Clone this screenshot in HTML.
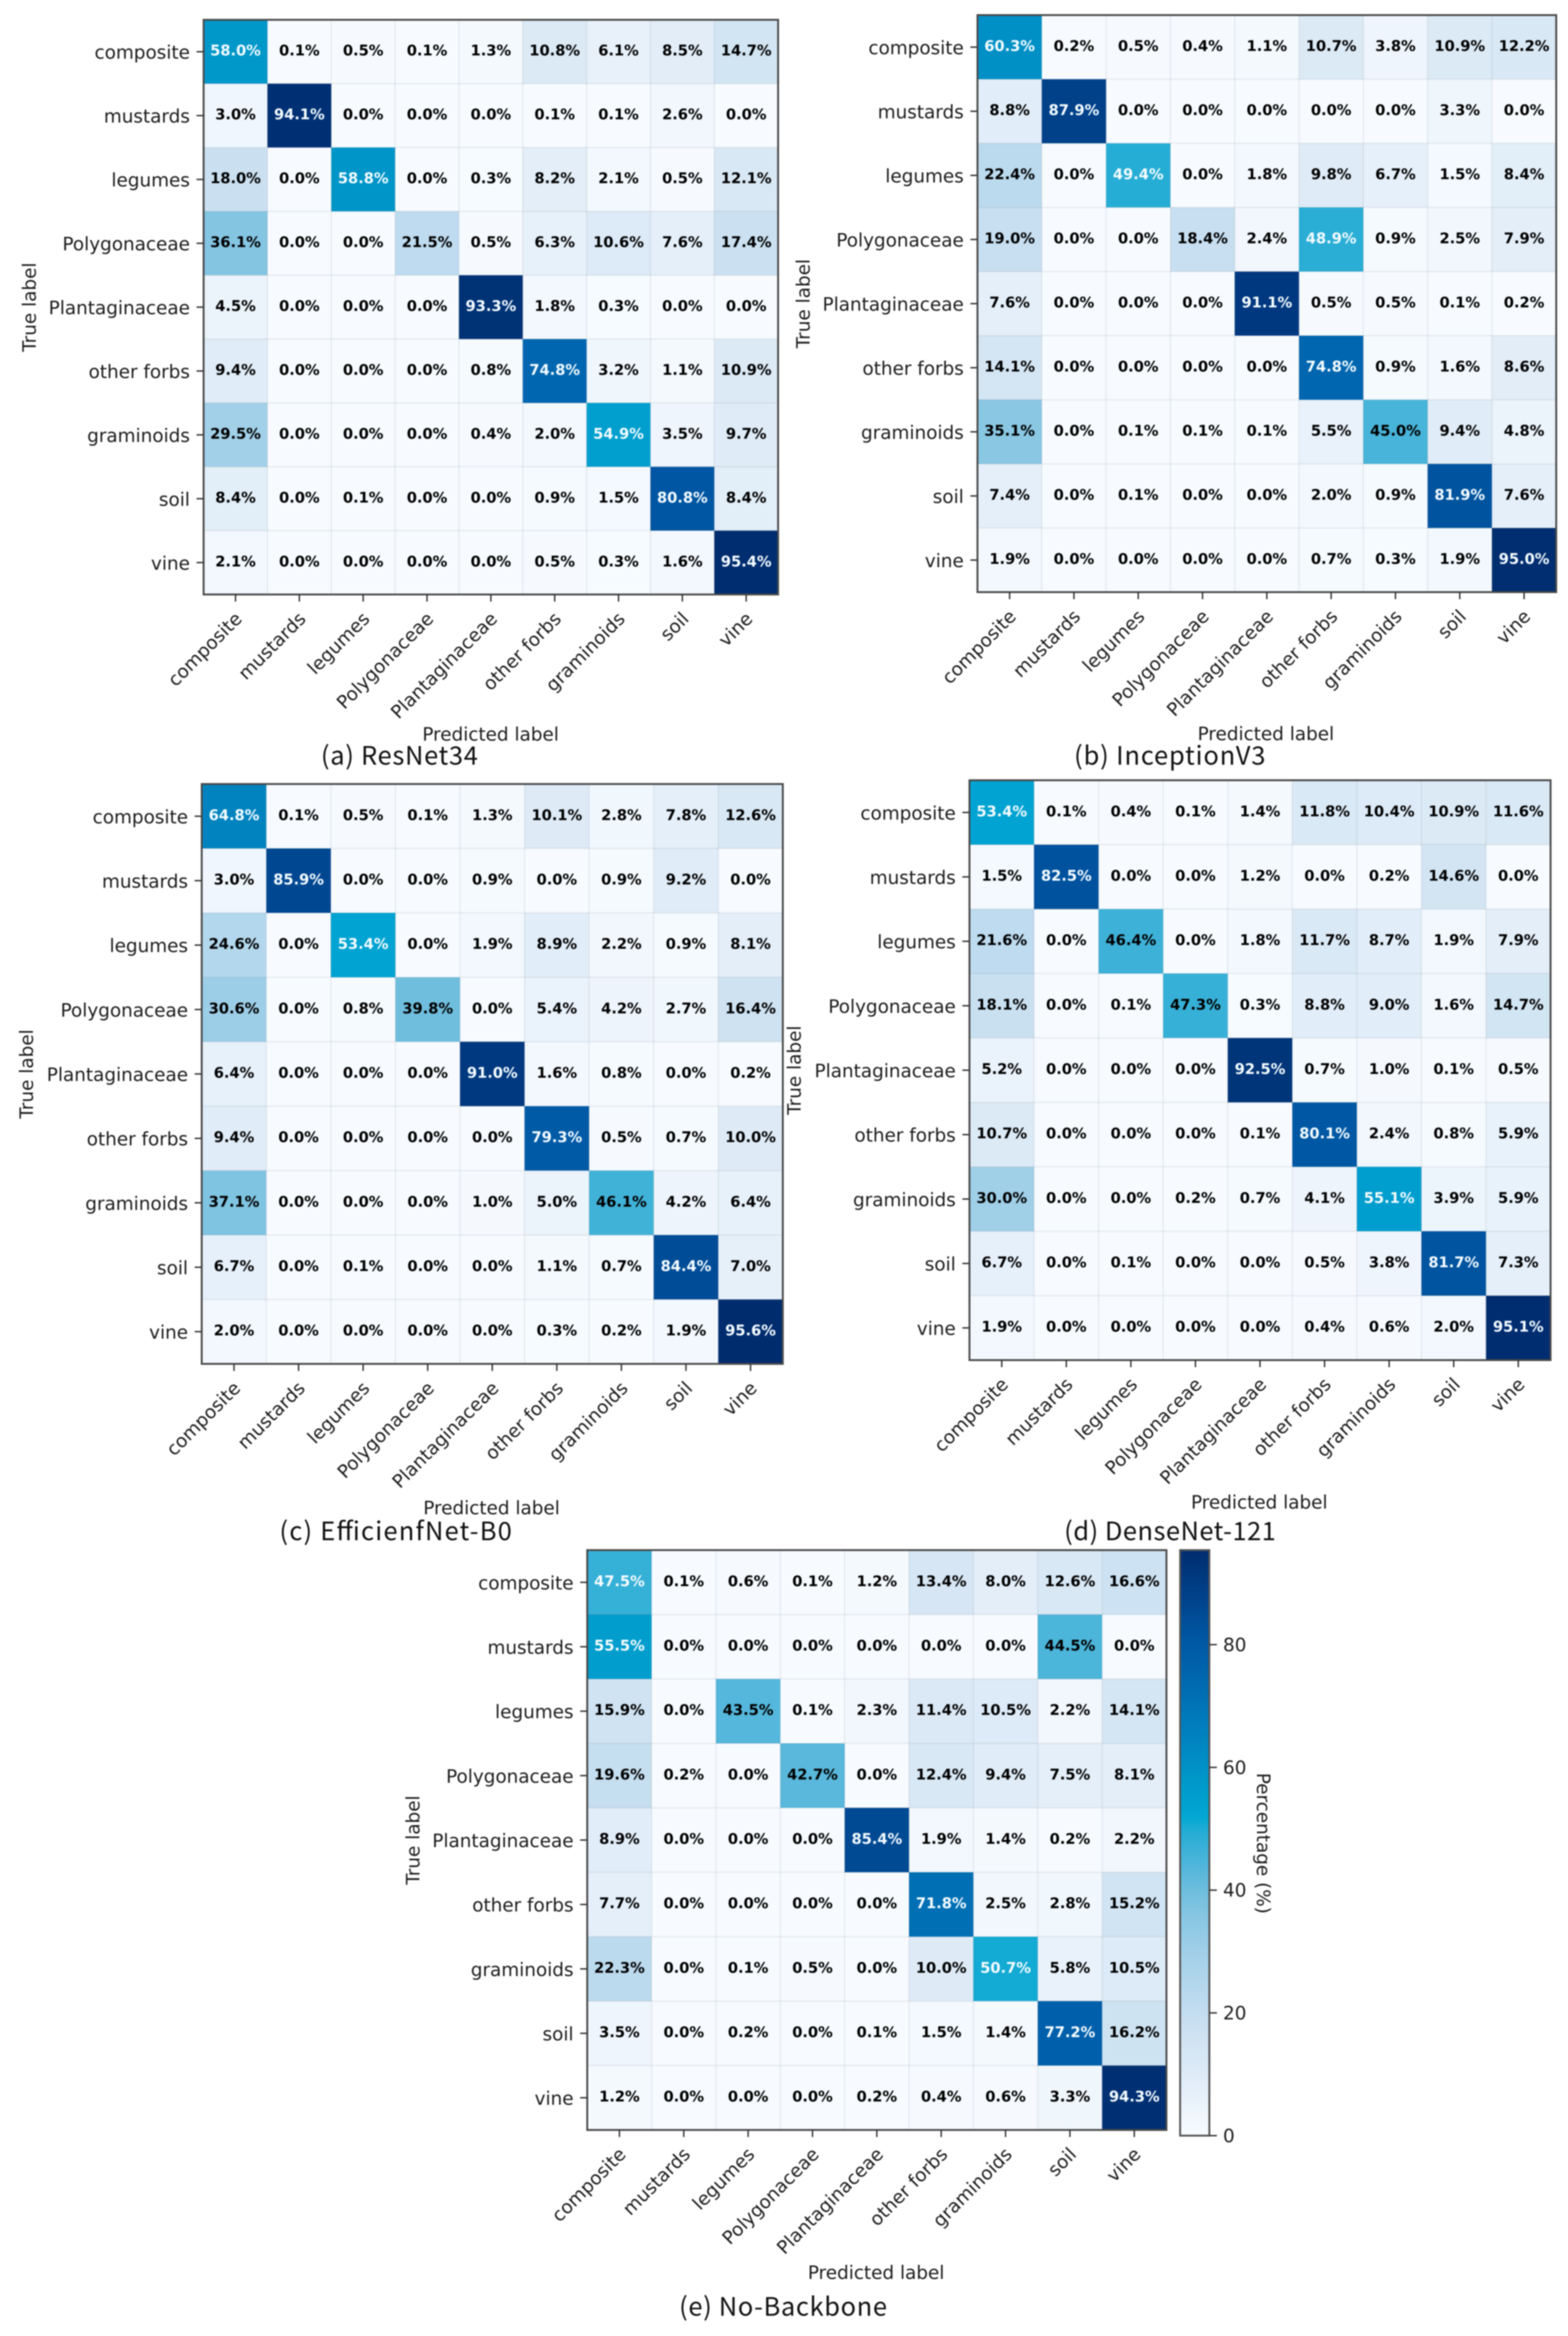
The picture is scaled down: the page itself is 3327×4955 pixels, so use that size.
<!DOCTYPE html>
<html lang="en">
<head>
<meta charset="utf-8">
<title>Confusion matrices</title>
<style>
html,body{margin:0;padding:0;background:#fff;width:3327px;height:4955px;overflow:hidden}
svg{display:block;filter:blur(1.2px)}
.tick{font-family:"DejaVu Sans","Liberation Sans",sans-serif;font-size:39px;fill:#1c1c1c}
.cell{font-family:"DejaVu Sans","Liberation Sans",sans-serif;font-size:31px;font-weight:bold}
.cap{font-family:"Noto Sans CJK SC","Liberation Sans",sans-serif;font-size:54px;fill:#111}
</style>
</head>
<body>
<svg id="figure" xmlns="http://www.w3.org/2000/svg" width="3327" height="4955" viewBox="0 0 3327 4955"></svg>
<script>
const categories = ["composite","mustards","legumes","Polygonaceae","Plantaginaceae","other forbs","graminoids","soil","vine"];
const valuesResNet34 = [
[58.0,0.1,0.5,0.1,1.3,10.8,6.1,8.5,14.7],
[3.0,94.1,0.0,0.0,0.0,0.1,0.1,2.6,0.0],
[18.0,0.0,58.8,0.0,0.3,8.2,2.1,0.5,12.1],
[36.1,0.0,0.0,21.5,0.5,6.3,10.6,7.6,17.4],
[4.5,0.0,0.0,0.0,93.3,1.8,0.3,0.0,0.0],
[9.4,0.0,0.0,0.0,0.8,74.8,3.2,1.1,10.9],
[29.5,0.0,0.0,0.0,0.4,2.0,54.9,3.5,9.7],
[8.4,0.0,0.1,0.0,0.0,0.9,1.5,80.8,8.4],
[2.1,0.0,0.0,0.0,0.0,0.5,0.3,1.6,95.4]];
const valuesInceptionV3 = [
[60.3,0.2,0.5,0.4,1.1,10.7,3.8,10.9,12.2],
[8.8,87.9,0.0,0.0,0.0,0.0,0.0,3.3,0.0],
[22.4,0.0,49.4,0.0,1.8,9.8,6.7,1.5,8.4],
[19.0,0.0,0.0,18.4,2.4,48.9,0.9,2.5,7.9],
[7.6,0.0,0.0,0.0,91.1,0.5,0.5,0.1,0.2],
[14.1,0.0,0.0,0.0,0.0,74.8,0.9,1.6,8.6],
[35.1,0.0,0.1,0.1,0.1,5.5,45.0,9.4,4.8],
[7.4,0.0,0.1,0.0,0.0,2.0,0.9,81.9,7.6],
[1.9,0.0,0.0,0.0,0.0,0.7,0.3,1.9,95.0]];
const valuesEfficientNet = [
[64.8,0.1,0.5,0.1,1.3,10.1,2.8,7.8,12.6],
[3.0,85.9,0.0,0.0,0.9,0.0,0.9,9.2,0.0],
[24.6,0.0,53.4,0.0,1.9,8.9,2.2,0.9,8.1],
[30.6,0.0,0.8,39.8,0.0,5.4,4.2,2.7,16.4],
[6.4,0.0,0.0,0.0,91.0,1.6,0.8,0.0,0.2],
[9.4,0.0,0.0,0.0,0.0,79.3,0.5,0.7,10.0],
[37.1,0.0,0.0,0.0,1.0,5.0,46.1,4.2,6.4],
[6.7,0.0,0.1,0.0,0.0,1.1,0.7,84.4,7.0],
[2.0,0.0,0.0,0.0,0.0,0.3,0.2,1.9,95.6]];
const valuesDenseNet = [
[53.4,0.1,0.4,0.1,1.4,11.8,10.4,10.9,11.6],
[1.5,82.5,0.0,0.0,1.2,0.0,0.2,14.6,0.0],
[21.6,0.0,46.4,0.0,1.8,11.7,8.7,1.9,7.9],
[18.1,0.0,0.1,47.3,0.3,8.8,9.0,1.6,14.7],
[5.2,0.0,0.0,0.0,92.5,0.7,1.0,0.1,0.5],
[10.7,0.0,0.0,0.0,0.1,80.1,2.4,0.8,5.9],
[30.0,0.0,0.0,0.2,0.7,4.1,55.1,3.9,5.9],
[6.7,0.0,0.1,0.0,0.0,0.5,3.8,81.7,7.3],
[1.9,0.0,0.0,0.0,0.0,0.4,0.6,2.0,95.1]];
const valuesNoBackbone = [
[47.5,0.1,0.6,0.1,1.2,13.4,8.0,12.6,16.6],
[55.5,0.0,0.0,0.0,0.0,0.0,0.0,44.5,0.0],
[15.9,0.0,43.5,0.1,2.3,11.4,10.5,2.2,14.1],
[19.6,0.2,0.0,42.7,0.0,12.4,9.4,7.5,8.1],
[8.9,0.0,0.0,0.0,85.4,1.9,1.4,0.2,2.2],
[7.7,0.0,0.0,0.0,0.0,71.8,2.5,2.8,15.2],
[22.3,0.0,0.1,0.5,0.0,10.0,50.7,5.8,10.5],
[3.5,0.0,0.2,0.0,0.1,1.5,1.4,77.2,16.2],
[1.2,0.0,0.0,0.0,0.2,0.4,0.6,3.3,94.3]];
const colorbarTicks = [0,20,40,60,80];
const colorbarMax = 95.4;

const svgNS = "http://www.w3.org/2000/svg";
const figure = document.getElementById("figure");

const colorStops = [
 [0,[247,251,255]],[10,[222,235,247]],[16,[207,227,242]],[20,[196,221,240]],[30,[160,207,232]],
 [37,[128,196,225]],[39.8,[111,190,222]],[46.4,[62,177,216]],[49.4,[38,173,213]],[52,[0,166,211]],[58,[0,151,201]],
 [65,[0,130,191]],[77,[0,96,171]],[82.5,[0,82,158]],[88,[0,65,138]],[95.6,[0,44,110]]];

function colorFor(v){
  for(let i=1;i<colorStops.length;i++){
    if(v<=colorStops[i][0]){
      const a=colorStops[i-1], b=colorStops[i], t=(v-a[0])/(b[0]-a[0]);
      return "rgb("+a[1].map((c,k)=>Math.round(c+(b[1][k]-c)*t)).join(",")+")";
    }
  }
  return "rgb(0,44,110)";
}

function make(tag, attrs, parent, text){
  const el=document.createElementNS(svgNS,tag);
  for(const k in attrs) el.setAttribute(k,attrs[k]);
  if(text!==undefined) el.textContent=text;
  parent.appendChild(el);
  return el;
}

function drawPanel(p){
  const n=categories.length;
  const xScale=i=>p.left+(p.right-p.left)*i/n;
  const yScale=i=>p.top+(p.bottom-p.top)*i/n;
  const cw=(p.right-p.left)/n, ch=(p.bottom-p.top)/n;
  const maxV=Math.max(...p.values.flat());

  const g=make("g",{},figure);
  
  

  p.values.forEach((row,r)=>row.forEach((v,c)=>{
    const cell=make("rect",{x:xScale(c),y:yScale(r),width:cw+0.5,height:ch+0.5,fill:colorFor(v)},g);
    
    
  }));

  for(let i=1;i<n;i++){
    const gx=make("line",{x1:xScale(i),x2:xScale(i),y1:p.top,y2:p.bottom,stroke:"rgba(110,120,130,0.11)","stroke-width":3},g);
    
    
    const gy=make("line",{y1:yScale(i),y2:yScale(i),x1:p.left,x2:p.right,stroke:"rgba(110,120,130,0.11)","stroke-width":3},g);
    
    
  }

  p.values.forEach((row,r)=>row.forEach((v,c)=>{
    const t=make("text",{x:xScale(c)+cw/2,y:yScale(r)+ch/2+8,"text-anchor":"middle","class":"cell",fill:v>maxV/2?"#f4fbff":"#000"},g,v.toFixed(1)+"%");
    
    
  }));

  const frame=make("rect",{x:p.left,y:p.top,width:p.right-p.left,height:p.bottom-p.top,fill:"none",stroke:"#4a4a4a","stroke-width":4},g);
  
  

  categories.forEach((name,i)=>{
    const cy=yScale(i)+ch/2, cx=xScale(i)+cw/2;
    const yt=make("line",{x1:p.left-15,x2:p.left,y1:cy,y2:cy,stroke:"#333","stroke-width":3},g);
    
    
    const yl=make("text",{x:p.left-29,y:cy+15,"text-anchor":"end","class":"tick"},g,name);
    
    
    const xt=make("line",{x1:cx,x2:cx,y1:p.bottom,y2:p.bottom+15,stroke:"#333","stroke-width":3},g);
    
    
    const ax=cx+16, ay=p.bottom+54;
    const xl=make("text",{x:ax,y:ay,"text-anchor":"end","class":"tick",transform:"rotate(-45 "+ax+" "+ay+")"},g,name);
    
    
  });

  const yTitleY=(p.top+p.bottom)/2;
  const yTitle=make("text",{x:p.yTitleX,y:yTitleY,"text-anchor":"middle","class":"tick",transform:"rotate(-90 "+p.yTitleX+" "+yTitleY+")"},g,"True label");
  
  

  const xTitle=make("text",{x:p.xTitleX,y:p.xTitleY,"text-anchor":"middle","class":"tick"},g,"Predicted label");
  
  

  const cap=make("text",{x:p.capX,y:p.capY,"class":"cap",textLength:p.capW},g,p.caption);
  
  
}

const panels=[
 {id:"resnet34",values:valuesResNet34,left:432,right:1651,top:42,bottom:1261,yTitleX:76,xTitleX:1041,xTitleY:1571,caption:"(a) ResNet34",capX:681,capY:1622,capW:333},
 {id:"inceptionv3",values:valuesInceptionV3,left:2074,right:3302,top:32,bottom:1256,yTitleX:1718,xTitleX:2686,xTitleY:1570,caption:"(b) InceptionV3",capX:2279,capY:1622,capW:406},
 {id:"efficientnet-b0",values:valuesEfficientNet,left:428,right:1661,top:1663,bottom:2893,yTitleX:70,xTitleX:1043,xTitleY:3212,caption:"(c) EfficienfNet-B0",capX:593,capY:3267,capW:493},
 {id:"densenet-121",values:valuesDenseNet,left:2057,right:3290,top:1655,bottom:2885,yTitleX:1699,xTitleX:2672,xTitleY:3200,caption:"(d) DenseNet-121",capX:2258,capY:3267,capW:449},
 {id:"no-backbone",values:valuesNoBackbone,left:1246,right:2475,top:3288,bottom:4518,yTitleX:890,xTitleX:1859,xTitleY:4834,caption:"(e) No-Backbone",capX:1441,capY:4912,capW:441}
];
panels.forEach(drawPanel);

/* colorbar */
const cb={left:2504,right:2566,top:3288,bottom:4530};
const cbY=v=>cb.bottom-(cb.bottom-cb.top)*v/colorbarMax;
const defs=make("defs",{},figure);
const grad=make("linearGradient",{id:"cbGrad",x1:0,y1:1,x2:0,y2:0},defs);
for(let i=0;i<=48;i++){
  const v=colorbarMax*i/48;
  make("stop",{offset:(i/48),"stop-color":colorFor(v)},grad);
}
const cbGroup=make("g",{},figure);


const cbRect=make("rect",{x:cb.left,y:cb.top,width:cb.right-cb.left,height:cb.bottom-cb.top,fill:"url(#cbGrad)",stroke:"#555","stroke-width":4},cbGroup);


colorbarTicks.forEach(v=>{
  const y=cbY(v);
  const t=make("line",{x1:cb.right,x2:cb.right+16,y1:y,y2:y,stroke:"#333","stroke-width":3},cbGroup);
  
  
  const l=make("text",{x:cb.right+29,y:y+14,"class":"tick"},cbGroup,String(v));
  
  
});
const cbTitle=make("text",{x:2667,y:3910,"text-anchor":"middle","class":"tick",transform:"rotate(90 2667 3910)"},cbGroup,"Percentage (%)");


</script>
</body>
</html>
